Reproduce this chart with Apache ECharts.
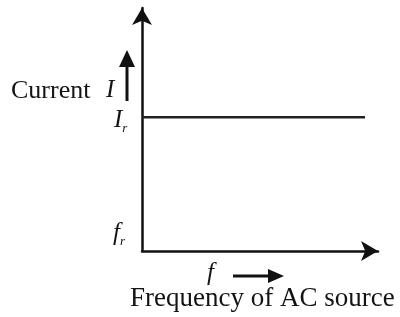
<!DOCTYPE html>
<html>
<head>
<meta charset="utf-8">
<script src="https://cdn.jsdelivr.net/npm/echarts@6/dist/echarts.min.js"></script>
<style>
  html, body { margin: 0; padding: 0; background: #fff; }
  #chart { width: 400px; height: 317px; }
</style>
</head>
<body>
<div id="chart"></div>
<script>
// resonance current stays flat across the frequency range
var freqPoints = [0, 94.5];
var currentValues = [55, 55];
var axisLabels = { y: 'Current', ySymbol: 'I', level: 'I', levelSub: 'r', x: 'f', xSub: 'r', xName: 'Frequency of AC source' };

var chart = echarts.init(document.getElementById('chart'));
var serif = 'Liberation Serif';
var ink = '#141414';

var lineData = freqPoints.map(function (f, i) { return [f, currentValues[i]]; });

function subText(left, top, main, sub) {
    return { type: 'text', left: left, top: top, style: {
        text: '{m|' + main + '}{s|' + sub + '}',
        rich: {
            m: { font: 'italic 25px ' + serif, fill: ink },
            s: { font: 'italic 13px ' + serif, fill: ink, padding: [16, 0, 0, 0] }
        }
    } };
}

var option = {
    backgroundColor: '#fff',
    animation: false,
    grid: { left: 142, right: 22, top: 8, bottom: 66 },
    xAxis: {
        type: 'value', min: 0, max: 100,
        axisLine: { lineStyle: { color: '#111', width: 2.5 }, symbol: ['none', 'arrow'], symbolSize: [15, 17] },
        axisTick: { show: false }, axisLabel: { show: false }, splitLine: { show: false }
    },
    yAxis: {
        type: 'value', min: 0, max: 100,
        axisLine: { lineStyle: { color: '#111', width: 2.5 }, symbol: ['none', 'arrow'], symbolSize: [15, 17] },
        axisTick: { show: false }, axisLabel: { show: false }, splitLine: { show: false }
    },
    series: [{
        type: 'line',
        data: lineData,
        symbol: 'none',
        lineStyle: { color: '#222', width: 2.5 }
    }],
    graphic: [
        { type: 'text', left: 11, top: 78, style: { text: axisLabels.y, font: '26px ' + serif, fill: ink } },
        { type: 'text', left: 106, top: 78, style: { text: axisLabels.ySymbol, font: 'italic 25px ' + serif, fill: ink } },
        { type: 'line', shape: { x1: 127, y1: 101, x2: 127, y2: 64 }, style: { stroke: '#111', lineWidth: 3 } },
        { type: 'polygon', shape: { points: [[119, 67], [135, 67], [127, 50]] }, style: { fill: '#111' } },
        subText(114, 108, axisLabels.level, axisLabels.levelSub),
        subText(113, 221, axisLabels.x, axisLabels.xSub),
        { type: 'text', left: 207, top: 261, style: { text: axisLabels.x, font: 'italic 25px ' + serif, fill: ink } },
        { type: 'line', shape: { x1: 233, y1: 276, x2: 271, y2: 276 }, style: { stroke: '#111', lineWidth: 3 } },
        { type: 'polygon', shape: { points: [[268, 269], [268, 283], [284, 276]] }, style: { fill: '#111' } },
        { type: 'text', left: 130, top: 285, style: { text: axisLabels.xName, font: '27px ' + serif, fill: ink } }
    ]
};
chart.setOption(option);
</script>
</body>
</html>
